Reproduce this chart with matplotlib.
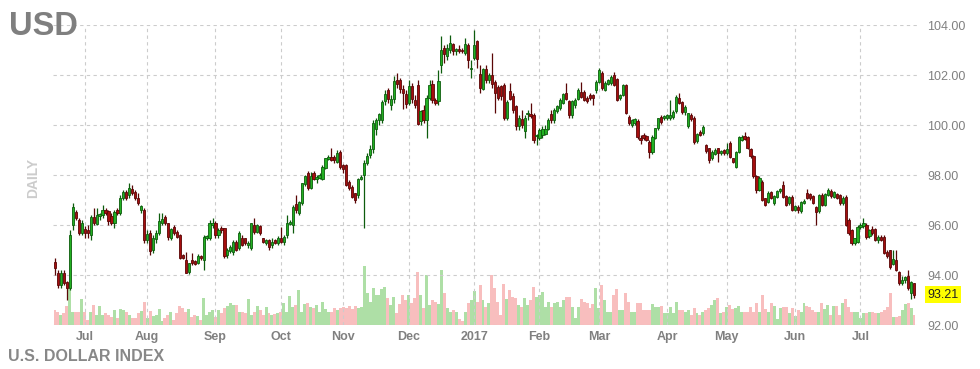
import numpy as np
import pandas as pd
import matplotlib
matplotlib.use('Agg')
import matplotlib.pyplot as plt

plt.rcParams['font.family'] = ['Liberation Sans', 'DejaVu Sans']

# daily OHLC of the dollar index (one value per trading day)
opens = [
    94.5, 94.1, 93.6, 94.1, 93.7, 93.5, 96.0, 96.5, 96.2, 95.7,
    95.85, 95.8, 95.6, 96.3, 96.05, 96.35, 96.4, 96.6, 96.55, 96.35,
    96.1, 96.6, 96.5, 97.1, 97.3, 97.2, 97.45, 97.3, 97.1, 96.6,
    96.6, 95.4, 95.7, 95.0, 95.45, 95.7, 96.1, 96.3, 96.07, 95.47,
    95.9, 95.73, 95.6, 94.8, 94.6, 94.13, 94.6, 94.55, 94.5, 94.76,
    94.6, 95.47, 95.47, 96.0, 96.07, 95.6, 95.87, 95.87, 94.8, 94.95,
    94.93, 95.33, 95.07, 95.47, 95.47, 95.2, 95.1, 96.0, 95.73, 95.96,
    95.47, 95.27, 95.4, 95.2, 95.4, 95.27, 95.47, 95.33, 95.6, 96.05,
    96.0, 96.84, 96.47, 96.87, 97.65, 98.07, 97.5, 98.1, 97.85, 97.9,
    97.83, 98.3, 98.65, 98.73, 98.73, 98.53, 98.93, 98.4, 98.4, 97.73,
    97.53, 97.27, 97.2, 97.83, 98.0, 98.5, 98.8, 99.05, 99.85, 100.2,
    100.2, 100.95, 101.4, 100.8, 101.05, 101.8, 101.8, 101.45, 101.25, 100.9,
    101.55, 101.0, 101.6, 100.15, 100.6, 100.2, 101.1, 101.65, 101.0, 100.95,
    102.4, 103.1, 102.75, 103.0, 103.25, 102.95, 103.05, 103.0, 102.9, 103.2,
    102.25, 102.7, 103.35, 102.05, 101.45, 102.25, 101.8, 102.0, 101.7, 101.5,
    101.55, 101.6, 100.3, 101.35, 101.15, 100.75, 99.95, 100.25, 99.75, 100.45,
    100.45, 100.4, 99.55, 99.5, 99.6, 99.65, 99.85, 100.45, 100.2, 100.55,
    100.7, 100.9, 101.3, 100.95, 100.4, 100.8, 101.05, 101.33, 101.33, 101.07,
    101.2, 101.2, 101.4, 101.73, 102.1, 101.4, 101.64, 101.67, 102.0, 101.83,
    101.1, 101.2, 101.6, 100.33, 100.0, 100.07, 100.17, 99.5, 99.6, 99.56,
    99.33, 98.93, 99.5, 99.87, 100.33, 100.27, 100.27, 100.27, 100.33, 100.57,
    101.1, 100.9, 100.53, 99.95, 100.4, 100.27, 99.37, 99.73, 99.7, 99.2,
    99.07, 98.67, 98.85, 99.07, 98.9, 99.0, 98.87, 99.27, 98.67, 98.33,
    98.93, 99.4, 99.55, 99.5, 99.03, 98.76, 97.96, 97.4, 97.73, 97.07,
    96.93, 97.3, 96.87, 97.13, 97.37, 97.6, 97.16, 96.87, 97.13, 96.6,
    96.73, 96.55, 96.9, 97.27, 97.25, 97.16, 96.7, 96.57, 97.2, 96.8,
    97.2, 97.37, 97.13, 97.24, 97.2, 96.87, 97.13, 96.2, 95.8, 95.3,
    95.33, 95.93, 95.95, 96.0, 95.56, 95.83, 95.83, 95.4, 95.53, 95.53,
    94.93, 95.0, 94.44, 94.6, 94.13, 93.67, 93.8, 93.96, 93.27, 93.67,
]
highs = [
    94.7, 94.2, 94.2, 94.2, 93.75, 95.8, 96.9, 96.6, 96.3, 96.2,
    95.95, 96.0, 96.4, 96.7, 96.7, 96.5, 96.8, 96.7, 96.6, 96.5,
    96.6, 96.7, 97.2, 97.4, 97.4, 97.7, 97.6, 97.4, 97.3, 96.8,
    96.7, 95.8, 95.8, 95.6, 95.8, 96.5, 96.5, 96.4, 96.1, 95.9,
    96.0, 95.8, 95.65, 94.85, 94.93, 94.5, 94.9, 94.6, 94.85, 94.8,
    95.6, 95.6, 96.2, 96.3, 96.15, 95.9, 95.95, 95.9, 95.1, 95.2,
    95.4, 95.4, 95.75, 95.6, 95.5, 95.35, 96.1, 96.3, 96.05, 96.0,
    95.5, 95.45, 95.45, 95.5, 95.45, 95.55, 95.93, 95.6, 96.4, 96.2,
    96.8, 97.2, 96.95, 97.7, 98.0, 98.15, 98.13, 98.15, 98.0, 98.1,
    98.4, 98.7, 98.8, 99.07, 98.8, 99.0, 99.0, 98.45, 98.45, 97.8,
    97.6, 97.3, 97.9, 98.0, 98.6, 98.9, 99.2, 100.2, 100.3, 100.5,
    101.0, 101.4, 101.5, 101.2, 101.95, 102.1, 101.9, 101.6, 101.4, 101.8,
    101.7, 101.2, 101.8, 100.6, 100.8, 101.2, 101.8, 101.8, 101.1, 102.2,
    103.55, 103.2, 103.25, 103.6, 103.3, 103.1, 103.2, 103.1, 103.5, 103.3,
    102.6, 103.8, 103.4, 102.4, 102.3, 102.4, 102.1, 102.9, 101.8, 101.6,
    101.6, 101.7, 101.0, 101.7, 101.3, 100.8, 100.4, 100.6, 100.4, 100.6,
    100.9, 100.5, 99.65, 99.9, 99.95, 100.0, 100.3, 100.6, 100.7, 100.8,
    101.1, 101.3, 101.7, 101.0, 101.0, 101.1, 101.5, 101.73, 101.4, 101.15,
    101.3, 101.25, 101.8, 102.27, 102.15, 101.75, 101.85, 102.0, 102.13, 101.9,
    101.25, 101.65, 101.65, 100.4, 100.25, 100.3, 100.25, 99.6, 99.7, 99.6,
    99.4, 99.6, 99.9, 100.3, 100.4, 100.4, 100.45, 101.0, 100.6, 101.2,
    101.27, 100.95, 100.8, 100.5, 100.5, 100.35, 99.7, 99.8, 100.0, 99.25,
    99.1, 99.0, 99.1, 99.1, 99.0, 99.05, 99.27, 99.35, 98.7, 98.95,
    99.55, 99.6, 99.73, 99.55, 99.1, 98.8, 98.0, 97.95, 97.8, 97.1,
    97.35, 97.35, 97.2, 97.4, 97.5, 97.75, 97.2, 97.15, 97.2, 96.8,
    96.8, 96.95, 97.05, 97.45, 97.3, 97.2, 96.75, 97.25, 97.3, 97.3,
    97.5, 97.45, 97.35, 97.3, 97.25, 97.15, 97.2, 96.3, 95.85, 95.5,
    96.0, 96.1, 96.3, 96.1, 95.85, 95.95, 95.9, 95.6, 95.6, 95.6,
    95.0, 95.0, 95.0, 95.0, 94.15, 93.95, 93.97, 94.2, 93.75, 93.7,
]
lows = [
    94.0, 93.5, 93.5, 93.6, 93.0, 93.4, 95.8, 96.2, 95.6, 95.6,
    95.5, 95.5, 95.4, 96.0, 96.0, 96.2, 96.3, 96.4, 96.0, 96.0,
    95.9, 96.4, 96.4, 97.0, 97.0, 97.1, 97.2, 97.0, 96.8, 96.5,
    95.3, 95.3, 94.8, 94.9, 95.3, 95.6, 96.0, 96.0, 95.4, 95.4,
    95.6, 95.5, 94.65, 94.65, 94.07, 94.05, 94.4, 94.4, 94.45, 94.6,
    94.2, 95.4, 95.4, 95.9, 95.5, 95.5, 95.7, 94.7, 94.7, 94.9,
    94.8, 94.95, 95.0, 95.15, 95.2, 95.1, 95.0, 95.65, 95.7, 95.6,
    95.3, 95.2, 95.0, 95.1, 95.25, 95.2, 95.3, 95.2, 95.5, 96.0,
    95.7, 96.5, 96.4, 96.8, 97.55, 97.4, 97.45, 97.8, 97.7, 97.85,
    97.8, 98.25, 98.6, 98.55, 98.5, 98.5, 98.25, 98.1, 97.55, 97.4,
    97.1, 96.9, 97.1, 97.8, 95.9, 98.4, 98.7, 98.9, 99.6, 100.0,
    100.1, 100.8, 100.9, 100.6, 100.9, 101.5, 101.3, 100.65, 100.7, 100.8,
    100.9, 100.7, 100.0, 100.0, 100.1, 99.5, 101.0, 100.9, 100.8, 100.8,
    102.1, 102.5, 102.6, 102.9, 102.8, 102.8, 102.9, 102.9, 102.8, 102.3,
    101.9, 102.6, 102.3, 101.3, 101.4, 101.7, 101.7, 101.5, 100.5, 101.0,
    101.0, 100.2, 100.2, 101.0, 100.5, 99.8, 99.8, 99.9, 99.5, 100.2,
    100.3, 99.3, 99.2, 99.4, 99.5, 99.6, 99.8, 100.1, 100.1, 100.5,
    100.6, 100.85, 101.0, 100.3, 100.3, 100.7, 101.0, 101.1, 100.95, 100.9,
    101.0, 100.8, 101.3, 101.7, 101.4, 101.35, 101.6, 101.6, 101.55, 100.95,
    101.0, 101.15, 100.45, 100.0, 99.93, 100.0, 99.45, 99.25, 99.4, 99.35,
    98.67, 98.85, 99.45, 99.8, 100.05, 100.2, 100.2, 100.2, 100.25, 100.5,
    100.85, 100.45, 100.4, 99.9, 100.15, 99.25, 99.3, 99.55, 99.6, 98.9,
    98.5, 98.6, 98.8, 98.53, 98.8, 98.8, 98.8, 98.7, 98.5, 98.3,
    98.9, 99.35, 99.4, 99.05, 98.7, 97.9, 97.3, 97.35, 96.95, 96.75,
    96.9, 97.05, 96.8, 97.1, 97.3, 97.1, 96.75, 96.8, 96.55, 96.55,
    96.5, 96.5, 96.85, 97.05, 97.0, 96.85, 96.0, 96.5, 96.75, 96.75,
    97.15, 97.1, 97.1, 97.05, 96.8, 96.8, 95.95, 95.6, 95.2, 95.2,
    95.3, 95.85, 95.9, 95.45, 95.5, 95.6, 95.35, 95.3, 95.35, 94.85,
    94.7, 94.25, 94.4, 94.15, 93.6, 93.6, 93.7, 93.4, 93.05, 93.1,
]
closes = [
    94.3, 93.6, 94.1, 93.7, 93.5, 95.6, 96.7, 96.3, 95.7, 96.1,
    95.7, 95.7, 96.3, 96.1, 96.4, 96.45, 96.6, 96.5, 96.15, 96.1,
    96.5, 96.5, 97.1, 97.3, 97.1, 97.5, 97.3, 97.1, 96.9, 96.75,
    95.4, 95.65, 94.95, 95.5, 95.7, 96.15, 96.25, 96.07, 95.53, 95.83,
    95.67, 95.53, 94.7, 94.7, 94.1, 94.47, 94.47, 94.45, 94.76, 94.67,
    95.53, 95.55, 96.07, 96.1, 95.6, 95.8, 95.8, 94.76, 95.0, 95.13,
    95.33, 95.0, 95.67, 95.2, 95.27, 95.3, 96.07, 95.73, 96.0, 95.67,
    95.33, 95.4, 95.13, 95.33, 95.3, 95.47, 95.33, 95.53, 96.1, 96.13,
    96.73, 96.6, 96.9, 97.67, 97.96, 97.47, 97.95, 97.83, 97.93, 98.0,
    98.33, 98.67, 98.73, 98.6, 98.6, 98.87, 98.33, 98.23, 97.6, 97.47,
    97.13, 97.0, 97.83, 97.93, 98.5, 98.75, 99.05, 100.1, 100.2, 100.45,
    100.9, 101.25, 101.05, 101.05, 101.75, 101.65, 101.45, 101.3, 100.85, 101.55,
    101.05, 100.8, 100.05, 100.55, 100.2, 101.1, 101.6, 101.0, 100.9, 101.75,
    103.0, 102.85, 103.1, 103.3, 102.95, 103.05, 102.95, 102.95, 103.25, 102.6,
    102.3, 103.2, 102.65, 101.5, 102.25, 101.8, 102.0, 101.65, 101.3, 101.1,
    101.15, 100.3, 100.9, 101.05, 100.6, 99.95, 100.3, 100.0, 100.3, 100.5,
    100.35, 99.4, 99.6, 99.8, 99.85, 99.85, 100.2, 100.2, 100.6, 100.75,
    101.0, 101.25, 101.05, 100.4, 100.95, 101.0, 101.4, 101.13, 101.0, 100.97,
    101.07, 101.07, 101.73, 102.2, 101.47, 101.67, 101.8, 101.93, 101.6, 101.0,
    101.2, 101.6, 100.5, 100.07, 100.2, 100.23, 99.53, 99.4, 99.47, 99.4,
    98.93, 99.53, 99.87, 100.27, 100.13, 100.36, 100.4, 100.4, 100.53, 101.13,
    100.9, 100.53, 100.73, 100.47, 100.25, 99.33, 99.64, 99.62, 99.93, 98.95,
    98.6, 98.93, 99.0, 98.87, 98.95, 98.87, 99.03, 98.73, 98.53, 98.93,
    99.53, 99.53, 99.43, 99.07, 98.76, 97.96, 97.4, 97.9, 97.0, 96.8,
    97.3, 97.1, 97.16, 97.37, 97.45, 97.13, 96.8, 97.13, 96.6, 96.75,
    96.6, 96.9, 96.95, 97.1, 97.07, 96.9, 96.53, 97.2, 96.8, 97.24,
    97.4, 97.16, 97.33, 97.1, 96.87, 97.1, 96.0, 95.67, 95.27, 95.47,
    95.93, 96.0, 96.07, 95.53, 95.8, 95.67, 95.4, 95.53, 95.4, 94.9,
    94.76, 94.33, 94.63, 94.2, 93.67, 93.8, 93.93, 93.47, 93.73, 93.21,
]
# relative daily volume (no scale shown on the chart)
volume = [
    15, 13, 10, 12, 19, 42, 13, 13, 13, 26, 13, 5, 13, 20, 10, 19, 10, 12, 10, 8,
    15, 7, 16, 15, 13, 10, 7, 7, 12, 14, 23, 7, 14, 9, 10, 16,
    4, 7, 10, 13, 5, 12, 19, 17, 13, 16, 8, 10, 9, 5, 27, 10, 13, 15, 8, 15,
    12, 17, 19, 22, 20, 20, 13, 13, 12, 26, 10, 13, 19, 15, 10,
    18, 12, 10, 11, 12, 13, 22, 13, 29, 18, 20, 35, 13, 21, 22, 18, 17, 20, 13, 23,
    16, 13, 13, 17, 15, 17, 18, 17, 19, 16, 19, 17, 18, 59,
    32, 23, 37, 30, 30, 36, 38, 27, 20, 28, 12, 21, 30, 25, 30, 22, 27, 53, 30, 17,
    50, 20, 25, 23, 21, 55, 32, 17, 13, 15, 13, 6, 4, 13, 22, 25, 34, 23, 40, 25,
    18, 22, 50, 37, 23, 10, 41, 26, 35, 28, 27, 20, 18, 27, 20, 25, 38, 28, 30, 33,
    18, 23, 18, 22, 23, 18, 25, 28, 28, 18, 7, 18, 26, 23, 22, 17, 21, 37, 17, 40,
    25, 13, 13, 30, 36, 15, 15, 32, 23, 13, 13, 22,
    22, 15, 15, 15, 21, 18, 18, 19, 12, 12, 18, 12, 23, 15, 15, 13, 15, 10, 17, 12,
    10, 13, 15, 17, 20, 25, 27, 12, 13, 18, 20, 16, 17, 19, 13, 13, 13, 18, 13, 22,
    13, 30, 16, 13, 22, 19, 6, 17, 18, 18, 12, 17, 9, 15, 13, 22, 19, 18, 15, 13,
    13, 22, 16, 20, 10, 19, 19, 10, 22, 26, 18, 13, 13, 13, 7, 12, 12, 13, 13, 12,
    12, 13, 15, 18, 32, 8, 8, 9, 15, 21, 22, 17, 10,
]
last_price = 93.21
dates = pd.bdate_range('2016-06-17', periods=len(closes))

o = np.array(opens)
h = np.array(highs)
l = np.array(lows)
c = np.array(closes)
v = np.array(volume)
x = np.arange(len(c))
up = c >= o

fig = plt.figure(figsize=(9.8, 3.69), dpi=100)
ax = fig.add_axes([53 / 980, 44 / 369, 865 / 980, 300 / 369])
vax = ax.twinx()
ax.set_zorder(vax.get_zorder() + 1)
ax.patch.set_visible(False)

# volume bars in the background
vax.bar(x, v, width=1.0, color=np.where(up, '#aedfa6', '#f8bebe'), linewidth=0)
vax.set_ylim(0, 300)
vax.axis('off')

# candles
edge = np.where(up, '#0d5c0d', '#5a0606')
fill = np.where(up, '#22b022', '#a50e0e')
ax.vlines(x, l, h, colors=edge, linewidth=0.9, zorder=3)
ax.bar(x, np.maximum(np.abs(c - o), 0.03), bottom=np.minimum(o, c), width=0.74,
       color=fill, edgecolor=edge, linewidth=0.6, zorder=4)

ax.set_ylim(92, 104)
ax.set_xlim(-0.67, len(c) - 1 + 1.35)
ax.set_yticks(np.arange(92, 104.1, 2))
ax.set_yticklabels(['%.2f' % t for t in np.arange(92, 104.1, 2)])
ax.yaxis.tick_right()

# month ticks at the first trading day of each month
ticks, labels = [], []
for i in range(1, len(dates)):
    if dates[i].month != dates[i - 1].month:
        ticks.append(i)
        labels.append(str(dates[i].year) if dates[i].month == 1 else dates[i].strftime('%b'))
ax.set_xticks(ticks)
ax.set_xticklabels(labels, fontweight='bold')

ax.tick_params(axis='both', length=0, labelsize=9, labelcolor='#808080')
ax.tick_params(axis='y', pad=6.5)
ax.tick_params(axis='x', pad=4)
ax.grid(True, color='#cccccc', linestyle=(0, (3, 3)), linewidth=0.8)
for s in ax.spines.values():
    s.set_visible(False)

# last price tag
ax.annotate('%.2f' % last_price, xy=(1, last_price), xycoords=('axes fraction', 'data'),
            xytext=(7, 0), textcoords='offset points', va='center', ha='left',
            fontsize=9, color='#222222',
            bbox=dict(boxstyle='square,pad=0.2', facecolor='#ffff00', edgecolor='none'))

fig.text(9 / 980, 1 - 35 / 369, 'USD', fontsize=23.5, fontweight='bold',
         color='#7f7f7f', va='baseline', ha='left')
fig.text(33 / 980, 1 - 178 / 369, 'DAILY', rotation=90, fontsize=10,
         fontweight='bold', color='#cccccc', ha='center', va='center')
fig.text(8 / 980, 1 - 361 / 369, 'U.S. DOLLAR INDEX', fontsize=11.5,
         fontweight='bold', color='#888888', va='baseline', ha='left')

fig.savefig('out.png', dpi=100)
